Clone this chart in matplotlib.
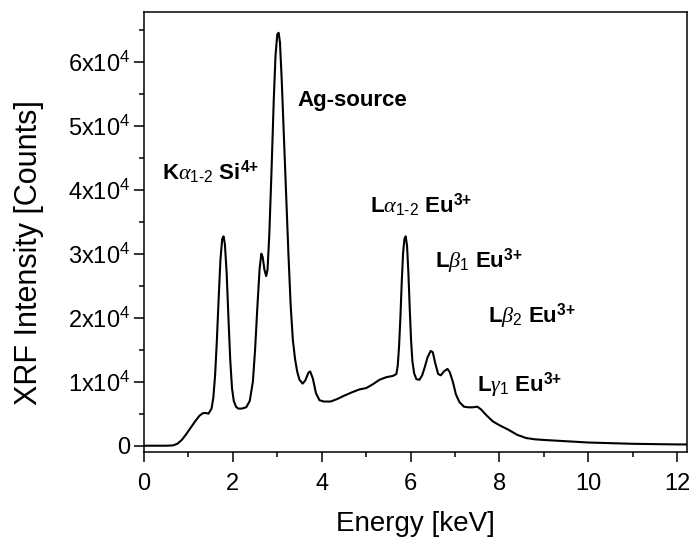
import matplotlib
matplotlib.use("Agg")
import matplotlib.pyplot as plt
from matplotlib.ticker import MultipleLocator, FuncFormatter

plt.rcParams['font.family'] = ['Liberation Sans', 'DejaVu Sans']
plt.rcParams['mathtext.fontset'] = 'custom'
plt.rcParams['mathtext.rm'] = 'Liberation Sans:bold'
plt.rcParams['mathtext.sf'] = 'Liberation Sans'
plt.rcParams['mathtext.it'] = 'Liberation Serif:italic'
plt.rcParams['mathtext.bf'] = 'Liberation Sans:bold'

# spectrum (energy in keV, counts)
energy = [0.0, 0.5, 0.65, 0.75, 0.85, 0.95, 1.05, 1.15, 1.25, 1.33, 1.4, 1.45,
          1.52, 1.56, 1.6, 1.64, 1.68, 1.72, 1.76, 1.79, 1.82, 1.86, 1.9, 1.94,
          1.98, 2.02, 2.07, 2.12, 2.2, 2.3, 2.38, 2.45, 2.5, 2.55, 2.6, 2.64,
          2.67, 2.71, 2.75, 2.78, 2.82, 2.87, 2.92, 2.96, 3.0, 3.03, 3.06, 3.1,
          3.15, 3.2, 3.25, 3.3, 3.35, 3.4, 3.45, 3.5, 3.57, 3.63, 3.7, 3.74,
          3.8, 3.87, 3.95, 4.05, 4.2, 4.35, 4.5, 4.7, 4.85, 5.0, 5.15, 5.3,
          5.45, 5.6, 5.68, 5.71, 5.74, 5.77, 5.8, 5.83, 5.86, 5.89, 5.92, 5.95,
          5.98, 6.01, 6.04, 6.08, 6.13, 6.2, 6.26, 6.32, 6.38, 6.45, 6.5, 6.55,
          6.62, 6.68, 6.75, 6.83, 6.88, 6.95, 7.02, 7.1, 7.2, 7.3, 7.4, 7.5,
          7.58, 7.7, 7.85, 8.0, 8.2, 8.4, 8.6, 8.8, 9.0, 9.5, 10.0, 10.5,
          11.0, 11.5, 12.0, 12.25]
counts = [0, 0, 50, 300, 900, 1800, 2800, 3800, 4700, 5100, 5100, 5000,
          5800, 7500, 11000, 16500, 23000, 29000, 32300, 32700, 31500, 27000, 20000, 13500,
          9000, 7000, 6100, 5800, 5800, 6000, 7000, 10000, 15000, 21500, 27500, 30000,
          29500, 27500, 26500, 27500, 33000, 43000, 54000, 61000, 64300, 64500, 63000, 57000,
          48000, 39000, 30000, 22000, 16500, 13500, 11500, 10300, 9700, 10200, 11400, 11600,
          10500, 8200, 7100, 6900, 6900, 7300, 7800, 8400, 8800, 9000, 9600, 10300,
          10700, 10900, 11200, 12500, 15500, 20000, 25500, 30000, 32300, 32700, 31200, 27000,
          21500, 16500, 13200, 11300, 10400, 10300, 11000, 12300, 13800, 14800, 14600, 13000,
          11200, 11000, 11600, 12000, 11500, 10000, 8000, 6800, 6100, 6000, 6000, 6100,
          5700, 4800, 3800, 3200, 2500, 1700, 1200, 1000, 900, 700, 500, 400,
          300, 250, 200, 200]

# peak labels: text, x, y (baseline)
labels = [r'K$\alpha_{\mathsf{1‐2}}$ Si$^{4{+}}$',
          'Ag-source',
          r'L$\alpha_{\mathsf{1‐2}}$ Eu$^{3{+}}$',
          r'L$\beta_{\mathsf{1}}$ Eu$^{3{+}}$',
          r'L$\beta_{\mathsf{2}}$ Eu$^{3{+}}$',
          r'L$\gamma_{\mathsf{1}}$ Eu$^{3{+}}$']
label_x = [0.41, 3.45, 5.09, 6.55, 7.75, 7.5]
label_y = [41600, 53100, 36400, 27800, 19200, 8400]

fig = plt.figure(figsize=(6.94, 5.43), dpi=100)
ax = fig.add_axes([0.2075, 0.1676, 0.7824, 0.8109])

ax.plot(energy, counts, color='black', lw=1.5)

for t, x, y in zip(labels, label_x, label_y):
    ax.text(x, y, t, fontsize=16, fontweight='bold', ha='left', va='baseline')

ax.set_xlim(0, 12.22)
ax.set_ylim(-980, 67800)
ax.xaxis.set_major_locator(MultipleLocator(2))
ax.xaxis.set_minor_locator(MultipleLocator(1))
ax.yaxis.set_major_locator(MultipleLocator(10000))
ax.yaxis.set_minor_locator(MultipleLocator(5000))


def yfmt(v, pos):
    n = int(round(v / 10000))
    if n == 0:
        return '0'
    return r'$\mathregular{%dx10^{4}}$' % n


ax.yaxis.set_major_formatter(FuncFormatter(yfmt))
ax.tick_params(which='both', direction='out', top=False, right=False,
               width=1.1, labelsize=17)
ax.tick_params(which='major', length=7)
ax.tick_params(which='minor', length=3.5)
ax.tick_params(axis='x', which='major', pad=8)
ax.tick_params(axis='y', which='major', pad=3)
for s in ax.spines.values():
    s.set_linewidth(1.1)

ax.set_xlabel('Energy [keV]', fontsize=20)
ax.set_ylabel('XRF Intensity [Counts]', fontsize=22)
ax.xaxis.set_label_coords(0.5, -0.1346)
ax.yaxis.set_label_coords(-0.185, 0.4536)

fig.savefig('out.png', dpi=100)
